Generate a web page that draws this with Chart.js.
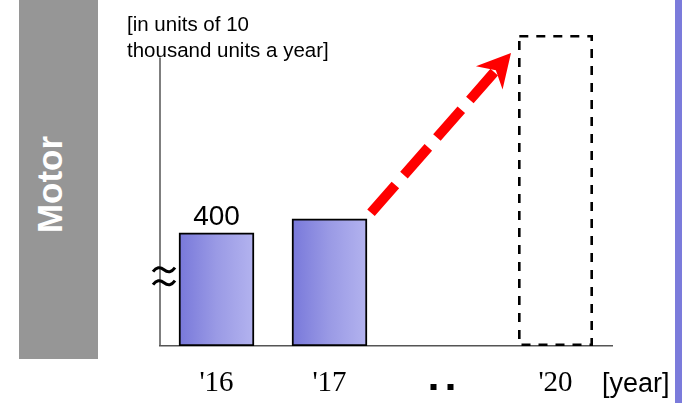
<!DOCTYPE html>
<html>
<head>
<meta charset="utf-8">
<title>Motor</title>
<script src="https://cdn.jsdelivr.net/npm/chart.js@4.4.1/dist/chart.umd.min.js"></script>
<style>
  html, body { margin: 0; padding: 0; background: #ffffff; }
  #wrap { position: relative; width: 682px; height: 403px; overflow: hidden; background: #ffffff; }
  #side { position: absolute; left: 19px; top: 0; width: 79px; height: 359px; background: #969696; }
  #sideLabel {
    position: absolute; left: -53px; top: 166.5px; width: 200px; height: 35px;
    line-height: 35px; text-align: center; color: #ffffff;
    font: bold 35px "Liberation Sans", Arial, sans-serif;
    transform: rotate(-90deg);
  }
  #stripe { position: absolute; left: 675px; top: 0; width: 7px; height: 403px; background: #7b7bdb; }
  #unitNote {
    position: absolute; left: 127px; top: 11px; color: #000;
    font: 20.5px "Liberation Sans", Arial, sans-serif; line-height: 26px; white-space: nowrap;
  }
  #yearNote {
    position: absolute; left: 602px; top: 368px; color: #000;
    font: 27px "Liberation Sans", Arial, sans-serif; line-height: 30px; white-space: nowrap;
  }
  canvas { position: absolute; left: 0; top: 0; }
</style>
</head>
<body>
<div id="wrap">
  <div id="side"></div>
  <div id="sideLabel">Motor</div>
  <canvas id="chart" width="682" height="403"></canvas>
  <div id="unitNote">[in units of 10<br>thousand units a year]</div>
  <div id="yearNote">[year]</div>
  <div id="stripe"></div>
</div>
<script>
// Yearly motor output, in units of 10 thousand units a year
const categories = ["'16", "'17", "", "'20"];
const actualUnits = [400, 450, null, null];
const targetUnits = [null, null, null, 1100];
const labeledBars = [0];          // bars that carry a value label
const yMax = 1100;
const axisTopValue = 1020;        // where the vertical axis line stops
const axisBreakValue = 245;       // where the "≈" break mark sits
const ellipsisIndex = 2;          // category drawn as two small squares

const BAR_WIDTH = 75;

function barGradient(ctx) {
  const chart = ctx.chart;
  const xs = chart.scales && chart.scales.x;
  if (!xs || ctx.dataIndex == null) return '#9a9ae4';
  const cx = xs.getPixelForValue(ctx.dataIndex);
  if (!isFinite(cx)) return '#9a9ae4';
  const g = chart.ctx.createLinearGradient(cx - BAR_WIDTH / 2, 0, cx + BAR_WIDTH / 2, 0);
  g.addColorStop(0, '#7878da');
  g.addColorStop(0.5, '#9a9ae5');
  g.addColorStop(1, '#b3b3ef');
  return g;
}

const decorations = {
  id: 'decorations',
  afterDatasetsDraw(chart) {
    const c = chart.ctx;
    const area = chart.chartArea;
    const ys = chart.scales.y;
    const xs = chart.scales.x;

    // vertical axis line
    c.save();
    c.strokeStyle = '#555555';
    c.lineWidth = 1.5;
    c.beginPath();
    c.moveTo(area.left, area.bottom);
    c.lineTo(area.left, ys.getPixelForValue(axisTopValue));
    c.stroke();

    // axis break mark
    const by = ys.getPixelForValue(axisBreakValue);
    const bx = area.left - 7;
    c.strokeStyle = '#000000';
    c.lineWidth = 3;
    [-7, 6].forEach(function (dy) {
      const yc = by + dy;
      c.beginPath();
      c.moveTo(bx, yc + 2);
      c.quadraticCurveTo(bx + 5, yc - 5, bx + 11, yc);
      c.quadraticCurveTo(bx + 17, yc + 5, bx + 22, yc - 2);
      c.stroke();
    });

    // dashed outline for the target bar
    const tMeta = chart.getDatasetMeta(1);
    targetUnits.forEach(function (v, i) {
      if (v == null) return;
      const el = tMeta.data[i];
      const p = el.getProps(['x', 'y', 'base', 'width'], true);
      const lw = 2.6;
      c.strokeStyle = '#000000';
      c.lineWidth = lw;
      c.setLineDash([9, 8]);
      c.lineCap = 'butt';
      c.strokeRect(p.x - p.width / 2 + lw / 2, p.y + lw / 2, p.width - lw, p.base - p.y - lw);
      c.setLineDash([]);
    });

    // value labels
    const aMeta = chart.getDatasetMeta(0);
    c.fillStyle = '#000000';
    c.font = '28px "Liberation Sans", Arial, sans-serif';
    c.textAlign = 'center';
    c.textBaseline = 'alphabetic';
    labeledBars.forEach(function (i) {
      const el = aMeta.data[i];
      c.fillText(String(actualUnits[i]), el.x, el.y - 8);
    });

    // growth arrow from the last actual bar to the target bar
    const lastIdx = 1;
    const a = aMeta.data[lastIdx];
    const b = tMeta.data[3];
    const sx = a.x + a.width / 2 + 4, sy = a.y - 6;
    const tx = b.x - b.width / 2 - 7, ty = b.y + 18;
    const len = Math.hypot(tx - sx, ty - sy);
    const ux = (tx - sx) / len, uy = (ty - sy) / len;
    const nx = -uy, ny = ux;
    const headLen = 33, headHalf = 17.7, notch = 23;
    c.strokeStyle = '#ff0000';
    c.fillStyle = '#ff0000';
    c.lineWidth = 10;
    c.lineCap = 'butt';
    c.setLineDash([37, 13]);
    c.beginPath();
    c.moveTo(sx, sy);
    c.lineTo(tx - notch * ux, ty - notch * uy);
    c.stroke();
    c.setLineDash([]);
    c.beginPath();
    c.moveTo(tx, ty);
    c.lineTo(tx - headLen * ux + headHalf * nx, ty - headLen * uy + headHalf * ny);
    c.lineTo(tx - notch * ux, ty - notch * uy);
    c.lineTo(tx - headLen * ux - headHalf * nx, ty - headLen * uy - headHalf * ny);
    c.closePath();
    c.fill();

    // ellipsis between '17 and '20
    const ex = xs.getPixelForValue(ellipsisIndex);
    c.fillStyle = '#000000';
    c.fillRect(ex - 12, 384, 6, 6);
    c.fillRect(ex + 5, 384, 6, 6);
    c.restore();
  }
};

new Chart(document.getElementById('chart'), {
  type: 'bar',
  data: {
    labels: categories,
    datasets: [
      {
        label: 'Actual',
        data: actualUnits,
        backgroundColor: barGradient,
        borderColor: '#000000',
        borderWidth: 2,
        borderSkipped: false,
        barThickness: BAR_WIDTH
      },
      {
        label: 'Target',
        data: targetUnits,
        backgroundColor: 'rgba(0,0,0,0)',
        borderWidth: 0,
        barThickness: BAR_WIDTH
      }
    ]
  },
  options: {
    responsive: false,
    animation: false,
    devicePixelRatio: 1,
    grouped: false,
    layout: { padding: { left: 160, right: 70, top: 35, bottom: 0 } },
    plugins: { legend: { display: false }, tooltip: { enabled: false } },
    scales: {
      x: {
        type: 'category',
        offset: true,
        grid: { display: false, drawTicks: false },
        border: { display: true, color: '#555555', width: 1.5 },
        ticks: {
          color: '#000000',
          font: { family: '"Liberation Serif", "Times New Roman", serif', size: 29 },
          padding: 20,
          maxRotation: 0,
          autoSkip: false
        },
        afterFit: function (s) { s.height = 57; }
      },
      y: { display: false, min: 0, max: yMax }
    }
  },
  plugins: [decorations]
});
</script>
</body>
</html>
